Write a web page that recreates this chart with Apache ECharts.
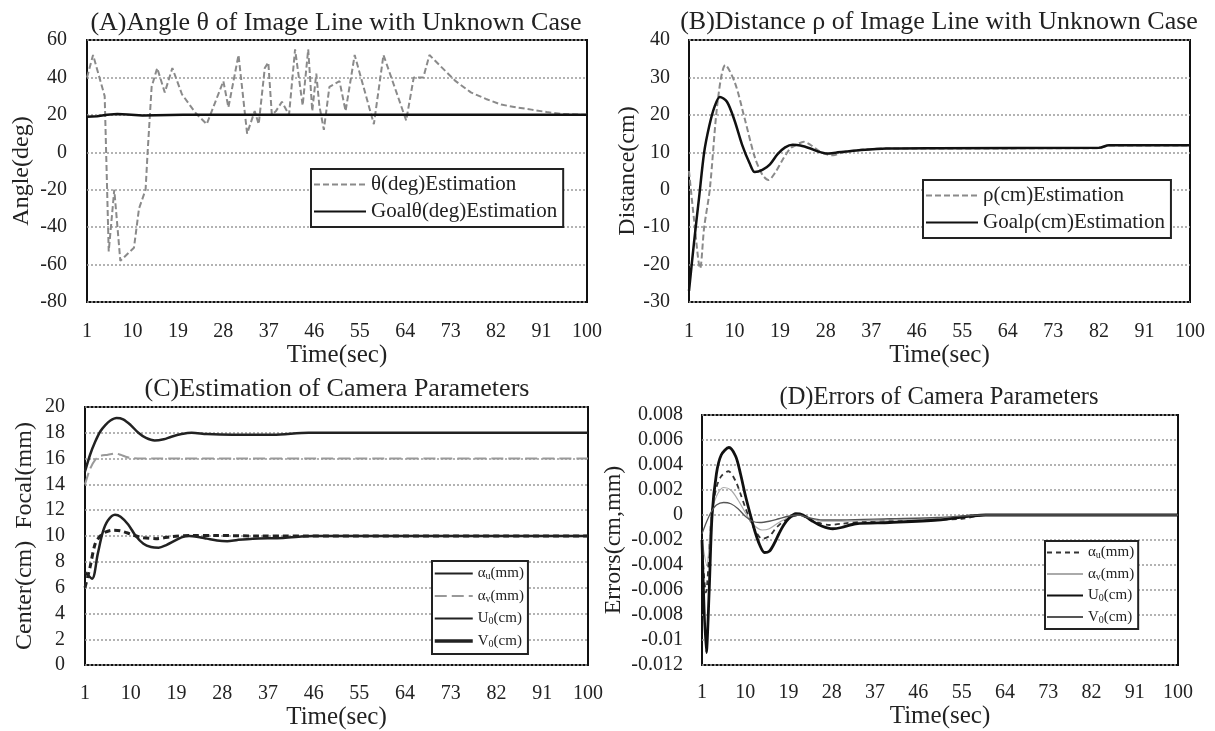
<!DOCTYPE html>
<html><head><meta charset="utf-8">
<script src="https://cdn.jsdelivr.net/npm/echarts@6/dist/echarts.min.js"></script>
<style>html,body{margin:0;padding:0;background:#fff}#c{width:1215px;height:731px}</style>
</head><body><div id="c"></div>
<script>
// ---------- time axis ticks ----------
const timeTicks = [1, 10, 19, 28, 37, 46, 55, 64, 73, 82, 91, 100];

// ---------- (A) angle ----------
const tThetaEst = [1, 2.2, 4.5, 5.3, 6.4, 7.6, 10.3, 11.3, 12.6, 13, 13.8, 14.9, 16.4, 17.9, 19.8, 22.5, 24.7, 28, 29, 31, 32.7, 34.2, 35, 36.2, 36.9, 37.6, 38.4, 39.6, 41, 42.2, 43.7, 44.8, 45.6, 46.4, 47, 47.9, 49, 51, 52.2, 54, 57.8, 59.7, 64.2, 65.7, 67.6, 68.8, 71, 74, 77, 80, 83, 86, 89, 92, 95, 100];
const thetaEst  = [40, 52, 30, -53, -20, -58, -51, -30, -20, 0, 35, 45, 32, 45, 31, 21, 15, 38, 24, 52, 10, 22, 15, 45, 48, 20, 22, 27, 20, 55, 25, 55, 22, 42, 25, 12, 35, 38, 22, 52, 15, 52, 17, 40, 40, 52, 46, 38, 32, 28.5, 25.5, 24, 22.8, 21.5, 20.5, 20];
const tThetaGoal = [1, 3, 5, 7, 9, 12, 20, 100];
const thetaGoal  = [19, 19.3, 20, 20.4, 20.2, 19.7, 20, 20];

// ---------- (B) distance ----------
const tRhoEst = [1, 2, 3.2, 4, 5.1, 6.7, 8.2, 10.1, 12, 14, 15.5, 16.7, 18, 19.5, 21, 22.5, 23.7, 25, 26.5, 28, 29.5, 31, 33, 36, 40, 82, 84, 100];
const rhoEst  = [5, -8, -21, -10, 0, 24, 33.3, 28.5, 19, 8.7, 4, 2.6, 4.5, 8, 11, 12.2, 12.8, 12, 10.5, 9.5, 9.2, 9.8, 10.3, 10.8, 11, 11.1, 11.8, 11.8];
const tRhoGoal = [1, 2, 3, 4, 5, 6, 7.1, 8.5, 10, 11.5, 13, 14, 15.5, 17, 18.5, 20, 21.5, 23, 25, 26.5, 28.3, 30, 32, 35, 40, 50, 82, 84, 100];
const rhoGoal  = [-27, -14, -2, 10, 17, 22, 24.8, 23.5, 18.5, 12, 7, 4.7, 5.3, 6.8, 9.5, 11.3, 12, 11.8, 11, 10.2, 9.7, 9.9, 10.2, 10.6, 11, 11.1, 11.2, 11.9, 11.9];

// ---------- (C) camera parameters ----------
const tCau = [1, 2, 3, 4, 5, 6, 7.2, 8.5, 10, 11.5, 13, 14.7, 16.5, 18, 20, 22, 25, 30, 38, 45, 100];
const cAu  = [15, 16.3, 17.3, 18.1, 18.6, 18.95, 19.15, 19.05, 18.6, 18.0, 17.6, 17.4, 17.5, 17.7, 17.9, 18.0, 17.9, 17.85, 17.85, 18, 18];
const tCav = [1, 2, 3, 4, 5.5, 7, 8, 9, 10, 12, 100];
const cAv  = [14, 15.2, 15.9, 16.2, 16.3, 16.4, 16.3, 16.15, 16.05, 16, 16];
const tCu0 = [1, 2.4, 3.5, 4.5, 5.5, 6.9, 8, 9.5, 11, 12.5, 14, 15.5, 17, 18.5, 20, 21.5, 23, 25, 27, 29, 31, 34, 40, 46, 100];
const cU0  = [7.2, 6.7, 8.6, 10.3, 11.2, 11.65, 11.5, 10.9, 10.0, 9.4, 9.15, 9.1, 9.3, 9.6, 9.9, 10.0, 9.95, 9.8, 9.65, 9.6, 9.7, 9.8, 9.85, 10, 10];
const tCv0 = [1, 2, 3, 4, 5, 6.5, 8, 10, 12, 15, 18, 22, 27, 35, 100];
const cV0  = [6.0, 7.6, 9.4, 10.0, 10.3, 10.45, 10.4, 10.15, 9.9, 9.8, 9.95, 10.05, 10.05, 10.0, 10.0];

// ---------- (D) errors ----------
const tDau = [1, 1.8, 3, 4, 5, 6.5, 8, 9, 10, 11, 12, 13.5, 15, 16.5, 18, 20, 21.5, 23, 25, 27.5, 30, 35, 45, 55, 60, 100];
const dAu  = [-0.0025, -0.0062, 0, 0.0022, 0.0031, 0.0035, 0.0027, 0.0017, 0.0006, -0.0004, -0.0012, -0.0019, -0.0017, -0.001, -0.0005, -0.0001, 0, -0.0003, -0.0006, -0.0008, -0.0007, -0.0005, -0.0004, -0.0003, 0, 0];
const tDav = [1, 2, 3, 4, 5.5, 7, 8.5, 10, 11.5, 13.5, 15, 17, 19, 21, 23, 26, 30, 40, 50, 60, 100];
const dAv  = [-0.002, -0.004, 0.0002, 0.0015, 0.0022, 0.002, 0.0012, 0.0002, -0.0007, -0.0012, -0.0011, -0.0006, -0.0002, 0, -0.0002, -0.0005, -0.0005, -0.0004, -0.0003, 0, 0];
const tDu0 = [1, 1.9, 2.5, 3.1, 4, 5, 6.6, 8, 9, 10, 11, 12, 13, 14, 15, 16, 17, 18, 19, 20.5, 22, 24, 26, 28.2, 30, 33, 40, 50, 60, 100];
const dU0  = [-0.002, -0.011, -0.006, 0, 0.0033, 0.0048, 0.0054, 0.0047, 0.0033, 0.0016, 0.0001, -0.0013, -0.0024, -0.003, -0.0029, -0.0023, -0.0015, -0.0008, -0.0003, 0.0001, 0, -0.0005, -0.0009, -0.0011, -0.001, -0.0007, -0.0006, -0.0004, 0, 0];
const tDv0 = [1, 2, 3, 4, 5.5, 7, 8.5, 10, 11.5, 13, 15, 17, 19, 21, 23, 26, 30, 40, 50, 60, 100];
const dV0  = [-0.0015, -0.0005, 0.0003, 0.0008, 0.001, 0.0009, 0.0005, -0.0001, -0.0005, -0.0006, -0.0005, -0.0003, -0.0001, 0, -0.0002, -0.0004, -0.0004, -0.0003, -0.0002, 0, 0];

// ---------- rendering ----------
const F = '"Liberation Serif", "DejaVu Serif", serif';
const TXT = '#222';
const pairs = (t, v) => t.map((x, i) => [x, v[i]]);

const grids = [
  {left: 87,  top: 40,  width: 500, height: 262},
  {left: 689, top: 40,  width: 501, height: 262},
  {left: 85,  top: 407, width: 503, height: 266},
  {left: 702, top: 415, width: 476, height: 250}
].map(g => Object.assign(g, {show: true, borderColor: '#111', borderWidth: 2, backgroundColor: '#fff'}));

function xAx(gi, margin, gap) {
  return {type: 'value', gridIndex: gi, min: timeTicks[0], max: timeTicks[timeTicks.length - 1],
    interval: timeTicks[1] - timeTicks[0],
    name: 'Time(sec)', nameLocation: 'middle', nameGap: gap,
    nameTextStyle: {fontFamily: F, fontSize: 25, color: TXT},
    axisLine: {show: false}, axisTick: {show: false}, splitLine: {show: false},
    axisLabel: {fontFamily: F, fontSize: 20, color: TXT, margin: margin, showMinLabel: true, showMaxLabel: true}};
}
function yAx(gi, min, max, interval, name, gap, margin) {
  return {type: 'value', gridIndex: gi, min, max, interval,
    name, nameLocation: 'middle', nameGap: gap,
    nameTextStyle: {fontFamily: F, fontSize: 24, color: TXT},
    axisLine: {show: false}, axisTick: {show: false},
    splitLine: {show: true, lineStyle: {type: [2, 2], color: '#9a9a9a', width: 1.5}},
    axisLabel: {fontFamily: F, fontSize: 20, color: TXT, margin: margin, showMinLabel: true, showMaxLabel: true}};
}

function ser(name, gi, t, v, ls, smooth) {
  return {name, type: 'line', xAxisIndex: gi, yAxisIndex: gi, data: pairs(t, v),
    symbol: 'none', showSymbol: false, smooth: smooth || false, lineStyle: ls, itemStyle: {color: ls.color}};
}

const richC = {
  n: {fontFamily: F, fontSize: 15, color: TXT, lineHeight: 16},
  s: {fontFamily: F, fontSize: 10, color: TXT, lineHeight: 16, verticalAlign: 'bottom'}
};
const labelMap = {
  'C au': '{n|α}{s|u}{n|(mm)}', 'C av': '{n|α}{s|v}{n|(mm)}', 'C U0': '{n|U}{s|0}{n|(cm)}', 'C V0': '{n|V}{s|0}{n|(cm)}',
  'D au': '{n|α}{s|u}{n|(mm)}', 'D av': '{n|α}{s|v}{n|(mm)}', 'D U0': '{n|U}{s|0}{n|(cm)}', 'D V0': '{n|V}{s|0}{n|(cm)}'
};

const legBase = {orient: 'vertical', backgroundColor: '#fff', borderColor: '#222', borderWidth: 2, borderRadius: 0,
  selectedMode: false,
  itemStyle: {color: 'rgba(0,0,0,0)', borderColor: 'rgba(0,0,0,0)', borderWidth: 0, opacity: 0}};

const titleStyle = size => ({fontFamily: F, fontSize: size, fontWeight: 'normal', color: TXT});

const option = {
  animation: false,
  backgroundColor: '#fff',
  title: [
    {text: '(A)Angle θ of Image Line with Unknown Case', left: 336, top: 10, textAlign: 'center', padding: 0, textStyle: titleStyle(26)},
    {text: '(B)Distance ρ of Image Line with Unknown Case', left: 939, top: 9, textAlign: 'center', padding: 0, textStyle: titleStyle(26)},
    {text: '(C)Estimation of Camera Parameters', left: 337, top: 376, textAlign: 'center', padding: 0, textStyle: titleStyle(26)},
    {text: '(D)Errors of Camera Parameters', left: 939, top: 385, textAlign: 'center', padding: 0, textStyle: titleStyle(24.5)}
  ],
  grid: grids,
  xAxis: [xAx(0, 20, 33), xAx(1, 20, 33), xAx(2, 19, 31), xAx(3, 18, 28)],
  yAxis: [
    yAx(0, -80, 60, 20, 'Angle(deg)', 53, 20),
    yAx(1, -30, 40, 10, 'Distance(cm)', 49, 19),
    yAx(2, 0, 20, 2, 'Center(cm)  Focal(mm)', 48, 20),
    yAx(3, -0.012, 0.008, 0.002, 'Errors(cm,mm)', 76, 19)
  ],
  legend: [
    Object.assign({}, legBase, {left: 311, top: 169, padding: [5, 6, 5, 2], itemGap: 6, itemWidth: 52, itemHeight: 14,
      textStyle: {fontFamily: F, fontSize: 21, color: TXT, lineHeight: 21},
      data: ['θ(deg)Estimation', 'Goalθ(deg)Estimation']}),
    Object.assign({}, legBase, {left: 923, top: 180, padding: [5, 6, 5, 2], itemGap: 6, itemWidth: 52, itemHeight: 14,
      textStyle: {fontFamily: F, fontSize: 21, color: TXT, lineHeight: 21},
      data: ['ρ(cm)Estimation', 'Goalρ(cm)Estimation']}),
    Object.assign({}, legBase, {left: 432, top: 561, padding: [5, 4, 5, 1], itemGap: 7, itemWidth: 38, itemHeight: 12,
      textStyle: {fontFamily: F, fontSize: 15, color: TXT, rich: richC},
      formatter: n => labelMap[n],
      data: ['C au', 'C av', 'C U0', {name: 'C V0', lineStyle: {type: 'solid', width: 3.5}}]}),
    Object.assign({}, legBase, {left: 1045, top: 541, padding: [4, 4, 4, 1], itemGap: 6, itemWidth: 36, itemHeight: 12,
      textStyle: {fontFamily: F, fontSize: 15, color: TXT, rich: richC},
      formatter: n => labelMap[n],
      data: ['D au', 'D av', 'D U0', 'D V0']})
  ],
  series: [
    ser('θ(deg)Estimation', 0, tThetaEst, thetaEst, {color: '#8a8a8a', width: 2, type: [6, 3]}),
    ser('Goalθ(deg)Estimation', 0, tThetaGoal, thetaGoal, {color: '#111', width: 2.5, type: 'solid'}),
    ser('ρ(cm)Estimation', 1, tRhoEst, rhoEst, {color: '#8a8a8a', width: 2, type: [6, 3]}, 0.3),
    ser('Goalρ(cm)Estimation', 1, tRhoGoal, rhoGoal, {color: '#111', width: 2.5, type: 'solid'}, 0.3),
    ser('C au', 2, tCau, cAu, {color: '#222', width: 2.5, type: 'solid'}, 0.3),
    ser('C av', 2, tCav, cAv, {color: '#999', width: 2, type: [12, 5]}, 0.3),
    ser('C U0', 2, tCu0, cU0, {color: '#222', width: 2.5, type: 'solid'}, 0.3),
    ser('C V0', 2, tCv0, cV0, {color: '#222', width: 3, type: [6, 4]}, 0.3),
    ser('D au', 3, tDau, dAu, {color: '#333', width: 1.8, type: [5, 4]}, 0.3),
    ser('D av', 3, tDav, dAv, {color: '#aaa', width: 1.2, type: 'solid'}, 0.3),
    ser('D U0', 3, tDu0, dU0, {color: '#111', width: 2.8, type: 'solid'}, 0.3),
    ser('D V0', 3, tDv0, dV0, {color: '#555', width: 1.3, type: 'solid'}, 0.3)
  ]
};

const chart = echarts.init(document.getElementById('c'), null, {renderer: 'canvas'});
chart.setOption(option);
</script>
</body></html>
